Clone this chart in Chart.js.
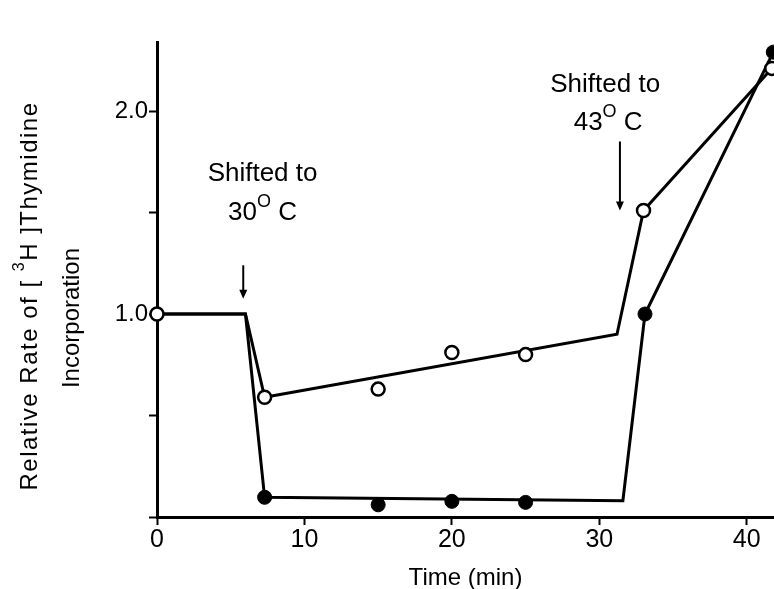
<!DOCTYPE html>
<html>
<head>
<meta charset="utf-8">
<script src="https://cdn.jsdelivr.net/npm/chart.js@4/dist/chart.umd.min.js"></script>
<style>
  html, body { margin: 0; padding: 0; background: #fff; }
  #wrap { width: 774px; height: 589px; }
</style>
</head>
<body>
<div id="wrap"><canvas id="c" width="774" height="589"></canvas></div>
<script>
// ---- data ----
const openLineX   = [0, 6, 7.3, 31.2, 33.0, 41.7];
const openLineY   = [1.0, 1.0, 0.59, 0.90, 1.51, 2.21];
const openPointX  = [0, 7.3, 15, 20, 25, 33.0, 41.7];
const openPointY  = [1.0, 0.59, 0.63, 0.81, 0.80, 1.51, 2.21];
const filledLineX  = [0, 6, 7.3, 31.6, 33.1, 41.8];
const filledLineY  = [1.0, 1.0, 0.097, 0.08, 1.0, 2.29];
const filledPointX = [7.3, 15, 20, 25, 33.1, 41.8];
const filledPointY = [0.097, 0.06, 0.077, 0.072, 1.0, 2.29];
const labeledYTicks = [1.0, 2.0];
const xTitle = 'Time (min)';
const shiftLabels = ['30', '43'];

const FONT = "'Liberation Sans', Arial, Helvetica, sans-serif";
const toPts = (xs, ys) => xs.map((x, i) => ({x, y: ys[i]}));

function drawRich(ctx, parts, cx, cy, size) {
  let w = 0;
  parts.forEach(p => {
    ctx.font = (p.sup ? Math.round(size * 0.68) : size) + 'px ' + FONT;
    p.w = ctx.measureText(p.t).width;
    w += p.w;
  });
  let x = cx - w / 2;
  ctx.textAlign = 'left';
  ctx.textBaseline = 'middle';
  parts.forEach(p => {
    ctx.font = (p.sup ? Math.round(size * 0.68) : size) + 'px ' + FONT;
    ctx.fillText(p.t, x, p.sup ? cy - size * 0.42 : cy);
    x += p.w;
  });
}

function arrow(ctx, x, y1, y2) {
  ctx.save();
  ctx.strokeStyle = '#000';
  ctx.fillStyle = '#000';
  ctx.lineWidth = 2;
  ctx.beginPath();
  ctx.moveTo(x, y1);
  ctx.lineTo(x, y2 - 6);
  ctx.stroke();
  ctx.beginPath();
  ctx.moveTo(x - 4, y2 - 9);
  ctx.lineTo(x + 4, y2 - 9);
  ctx.lineTo(x, y2);
  ctx.closePath();
  ctx.fill();
  ctx.restore();
}

const annot = {
  id: 'annot',
  afterDraw(chart) {
    const ctx = chart.ctx;
    const xs = chart.scales.x, ys = chart.scales.y;
    const X = v => xs.getPixelForValue(v), Y = v => ys.getPixelForValue(v);
    ctx.save();
    ctx.fillStyle = '#000';
    // annotations
    drawRich(ctx, [{t: 'Shifted to'}], X(7.16), Y(1.69), 26);
    drawRich(ctx, [{t: shiftLabels[0]}, {t: 'O', sup: true}, {t: ' C'}], X(7.16), Y(1.50), 26);
    arrow(ctx, X(5.85), Y(1.24), Y(1.075));
    drawRich(ctx, [{t: 'Shifted to'}], X(30.4), Y(2.13), 26);
    drawRich(ctx, [{t: shiftLabels[1]}, {t: 'O', sup: true}, {t: ' C'}], X(30.6), Y(1.94), 26);
    arrow(ctx, X(31.4), Y(1.85), Y(1.51));
    // y-axis title (rotated, two lines)
    ctx.save();
    ctx.translate(30, 296);
    ctx.rotate(-Math.PI / 2);
    ctx.letterSpacing = '1.5px';
    drawRich(ctx, [{t: 'Relative Rate of [ '}, {t: '3', sup: true}, {t: 'H ]Thymidine'}], 0, 0, 24);
    ctx.restore();
    ctx.save();
    ctx.translate(72, 318);
    ctx.rotate(-Math.PI / 2);
    drawRich(ctx, [{t: 'Incorporation'}], 0, 0, 24);
    ctx.restore();
    ctx.restore();
  }
};

new Chart(document.getElementById('c'), {
  type: 'line',
  data: {
    datasets: [
      { data: toPts(openPointX, openPointY), showLine: false, pointRadius: 6.5, pointBorderWidth: 2.5,
        pointBackgroundColor: '#fff', pointBorderColor: '#000', clip: false },
      { data: toPts(filledPointX, filledPointY), showLine: false, pointRadius: 7, pointBorderWidth: 1,
        pointBackgroundColor: '#000', pointBorderColor: '#000', clip: false },
      { data: toPts(openLineX, openLineY), borderColor: '#000', borderWidth: 3, pointRadius: 0,
        tension: 0, fill: false, clip: false },
      { data: toPts(filledLineX, filledLineY), borderColor: '#000', borderWidth: 3, pointRadius: 0,
        tension: 0, fill: false, clip: false }
    ]
  },
  options: {
    responsive: false,
    animation: false,
    devicePixelRatio: 1,
    layout: { autoPadding: false, padding: { top: 42, right: 0, left: 0, bottom: 0 } },
    plugins: { legend: { display: false }, tooltip: { enabled: false }, title: { display: false } },
    scales: {
      x: {
        type: 'linear', min: 0, max: 41.85,
        afterFit: s => { s.height = 72; },
        border: { display: true, color: '#000', width: 3 },
        grid: { display: true, drawOnChartArea: false, drawTicks: true, tickLength: 8, tickWidth: 2, tickColor: '#000' },
        ticks: { stepSize: 10, includeBounds: false, color: '#000', padding: 0,
                 font: { family: FONT, size: 25 } },
        title: { display: true, text: xTitle, color: '#000', padding: { top: 10, bottom: 0 },
                 font: { family: FONT, size: 24, lineHeight: 0.9 } }
      },
      y: {
        type: 'linear', min: 0, max: 2.34,
        afterFit: s => { s.width = 157; },
        border: { display: true, color: '#000', width: 3 },
        grid: { display: true, drawOnChartArea: false, drawTicks: true, tickLength: 8, tickWidth: 2, tickColor: '#000' },
        ticks: { stepSize: 0.5, includeBounds: false, color: '#000', padding: 1,
                 font: { family: FONT, size: 24 },
                 callback: v => labeledYTicks.includes(v) ? v.toFixed(1) : '' }
      }
    }
  },
  plugins: [annot]
});
</script>
</body>
</html>
